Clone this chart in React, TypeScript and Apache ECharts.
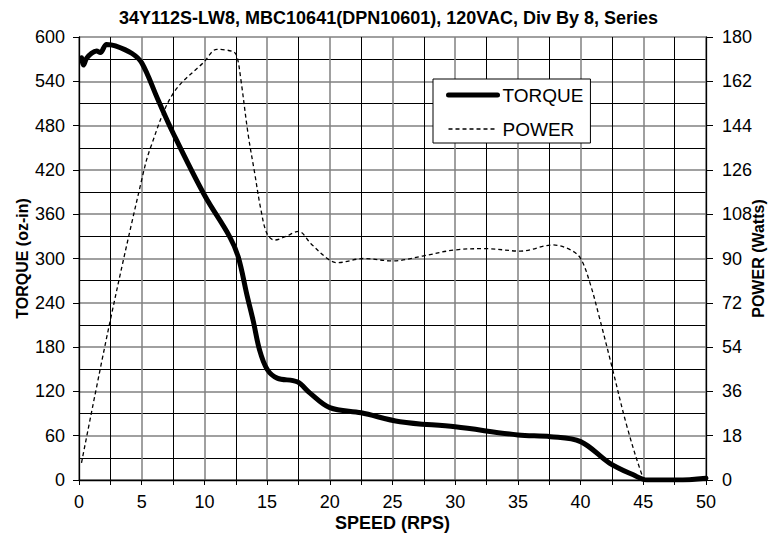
import React, { useEffect, useRef } from "react";
import * as echarts from "echarts";

const titleText = "34Y112S-LW8, MBC10641(DPN10601), 120VAC, Div By 8, Series";

const torqueSpeed = [0.2, 0.35, 0.6, 1.0, 1.4, 1.7, 2.2, 2.9, 4.2, 5, 6.3, 7.5, 10, 12, 12.7, 13.4, 13.9, 14.4, 15, 15.8, 17.4, 18.4, 20, 22.5, 25.6, 30, 35, 37.6, 40, 42.3, 44.2, 45.3, 47.7, 50];
const torqueValues = [572, 562, 571, 578, 581, 579, 590, 588, 578, 565, 515, 470, 386, 330, 302, 250, 215, 176, 150, 138, 133, 118, 98, 91, 79, 72, 61, 58.7, 52, 23, 7, 0, 0, 2.5];

const powerSpeed = [0.2, 2.5, 5, 5.7, 7.5, 10, 11, 12.3, 12.6, 12.9, 13.5, 14, 14.5, 15, 15.6, 16.5, 17.5, 18.5, 19.8, 20.6, 22.7, 25, 27.4, 30, 32.5, 35.2, 37.8, 39.2, 40, 40.75, 41.5, 42.5, 43.7, 44.9, 45.2];
const powerValues = [7, 65, 122, 135, 157, 170, 175, 174, 172, 163, 140, 125, 110, 100, 97.5, 99, 101, 96, 90, 88.3, 90, 89, 91, 93.5, 94, 93, 95.5, 93.5, 90, 80, 66, 46, 21.7, 2, 0];

const FONT = "Liberation Sans, Arial, sans-serif";

export default function App() {
  const ref = useRef<HTMLDivElement>(null);
  useEffect(() => {
    document.body.style.margin = "0";
    const chart = echarts.init(ref.current!, null, { renderer: "svg" });
    const majorLine = { show: true, lineStyle: { color: "#808080", width: 1.5 } };
    const minorLine = { show: true, lineStyle: { color: "#000", width: 1 } };
    chart.setOption({
      animation: false,
      backgroundColor: "#fff",
      title: {
        text: titleText,
        left: "center",
        top: 4,
        textStyle: { fontFamily: FONT, fontSize: 18, fontWeight: "bold", color: "#000" },
      },
      legend: {
        left: 433,
        top: 79,
        orient: "vertical",
        backgroundColor: "#fff",
        borderColor: "#000",
        borderWidth: 1,
        padding: [6, 7, 4, 13],
        itemGap: 14,
        itemWidth: 49,
        itemHeight: 20,
        itemStyle: { opacity: 0 },
        textStyle: { fontFamily: FONT, fontSize: 19, color: "#000", lineHeight: 20 },
        data: [
          { name: "TORQUE", lineStyle: { width: 5, color: "#000", cap: "round" } },
          { name: "POWER", lineStyle: { width: 1.3, color: "#000", type: [4, 3] } },
        ],
      },
      grid: { left: 79, right: 71, top: 37, bottom: 61, show: false, containLabel: false, outerBoundsMode: "none" },
      xAxis: {
        type: "value",
        min: 0,
        max: 50,
        interval: 5,
        name: "SPEED (RPS)",
        nameLocation: "middle",
        nameGap: 34,
        nameMoveOverlap: false,
        nameTextStyle: { fontFamily: FONT, fontSize: 18, fontWeight: "bold", color: "#000" },
        axisLine: { show: true, lineStyle: { color: "#000", width: 1.3 } },
        axisTick: { show: true, length: 5, lineStyle: { color: "#000" } },
        minorTick: { show: true, splitNumber: 2, length: 5, lineStyle: { color: "#000" } },
        axisLabel: { fontFamily: FONT, fontSize: 18, color: "#000", margin: 13 },
        splitLine: majorLine,
        minorSplitLine: minorLine,
      },
      yAxis: [
        {
          type: "value",
          min: 0,
          max: 600,
          interval: 60,
          name: "TORQUE (oz-in)",
          nameLocation: "middle",
          nameGap: 49,
          nameMoveOverlap: false,
          nameTextStyle: { fontFamily: FONT, fontSize: 16, fontWeight: "bold", color: "#000" },
          axisLine: { show: true, lineStyle: { color: "#000", width: 1.3 } },
          axisTick: { show: true, length: 6, lineStyle: { color: "#000" } },
          minorTick: { show: false, splitNumber: 2 },
          axisLabel: { fontFamily: FONT, fontSize: 18, color: "#000", margin: 14 },
          splitLine: majorLine,
          minorSplitLine: minorLine,
        },
        {
          type: "value",
          min: 0,
          max: 180,
          interval: 18,
          name: "POWER (Watts)",
          nameLocation: "middle",
          nameGap: 44,
          nameMoveOverlap: false,
          nameRotate: 90,
          nameTextStyle: { fontFamily: FONT, fontSize: 16, fontWeight: "bold", color: "#000" },
          axisLine: { show: true, lineStyle: { color: "#000", width: 1.3 } },
          axisTick: { show: true, length: 7, lineStyle: { color: "#000" } },
          axisLabel: { fontFamily: FONT, fontSize: 18, color: "#000", margin: 16 },
          splitLine: { show: false },
        },
      ],
      series: [
        {
          name: "TORQUE",
          type: "line",
          yAxisIndex: 0,
          data: torqueSpeed.map((s, i) => [s, torqueValues[i]]),
          smooth: 0.35,
          symbol: "none",
          lineStyle: { color: "#000", width: 5, cap: "round", join: "round" },
          itemStyle: { color: "#000" },
          z: 3,
        },
        {
          name: "POWER",
          type: "line",
          yAxisIndex: 1,
          data: powerSpeed.map((s, i) => [s, powerValues[i]]),
          smooth: 0.35,
          symbol: "none",
          lineStyle: { color: "#000", width: 1.3, type: [4, 3] },
          itemStyle: { color: "#000" },
          z: 2,
        },
      ],
    });
    return () => chart.dispose();
  }, []);
  return <div ref={ref} style={{ width: 777, height: 541, position: "absolute", left: 0, top: 0 }} />;
}
